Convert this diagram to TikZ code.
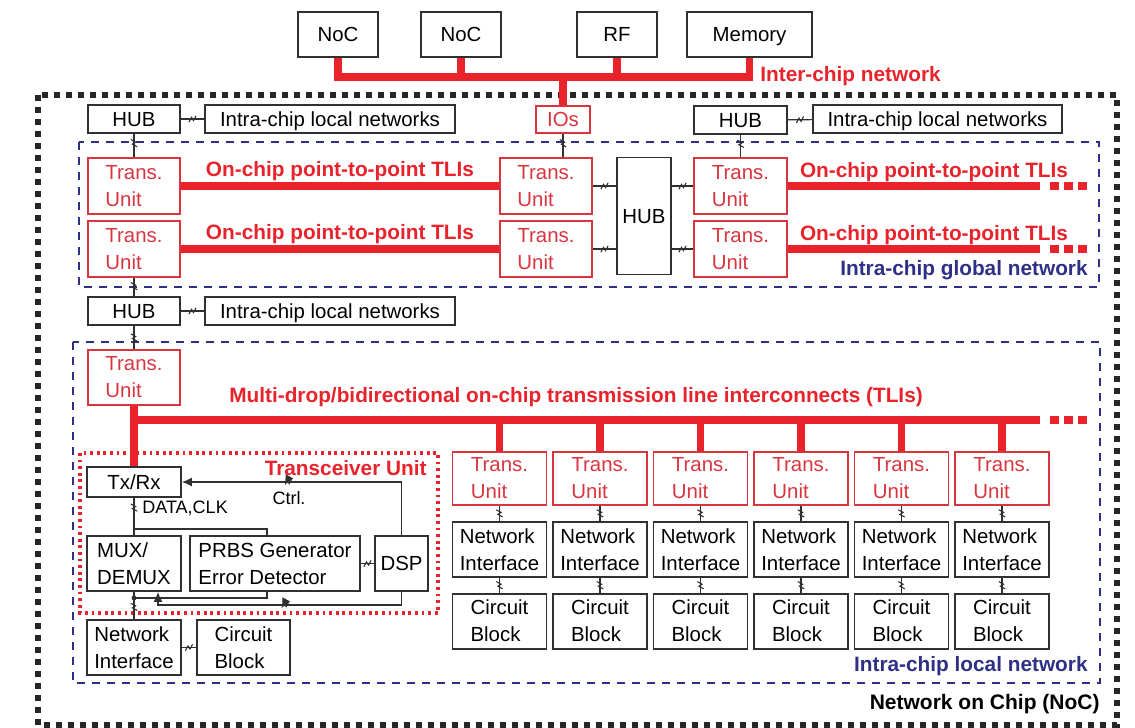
\documentclass[tikz,border=0pt]{standalone}
\usepackage{fontspec}
\setmainfont{Liberation Sans}
\usepackage{tikz}
\usetikzlibrary{arrows.meta,positioning,decorations.markings}
\definecolor{TLIRed}{HTML}{E8232B}
\definecolor{UnitRed}{HTML}{D9353F}
\definecolor{GlobalNavy}{HTML}{2E3086}
\definecolor{BoxGray}{HTML}{303030}

\begin{document}
\begin{tikzpicture}[x=0.5pt, y=-0.5pt,
  chipbox/.style={draw=BoxGray, line width=0.9pt, minimum width=46pt, minimum height=14pt,
    inner sep=0pt, align=left, font=\fontsize{10.2}{13.5}\selectfont},
  onelinebox/.style={chipbox, text height=0.72em, text depth=0pt},
  unitbox/.style={chipbox, draw=UnitRed, text=UnitRed, minimum height=28pt},
  tallbox/.style={chipbox, minimum height=27.5pt},
  tlibus/.style={draw=TLIRed, line width=3.8pt},
  tlitail/.style={draw=TLIRed, line width=3.8pt, dash pattern=on 4.5pt off 2.5pt},
  wire/.style={draw=BoxGray, line width=0.6pt},
  busmark/.style={postaction={decorate}, decoration={markings, mark=at position #1 with
    {\draw[line width=0.55pt] (-1.8pt,-1.6pt) -- (-0.5pt,0.8pt) -- (0.5pt,-0.8pt) -- (1.8pt,1.6pt);}}},
  busmark/.default=0.5,
  redlabel/.style={text=TLIRed, font=\bfseries\fontsize{10.4}{12}\selectfont, inner sep=0pt},
  navylabel/.style={text=GlobalNavy, font=\bfseries\fontsize{10.4}{12}\selectfont, inner sep=0pt},
  netborder/.style={draw=GlobalNavy, line width=1.2pt, dash pattern=on 4pt off 3.5pt},
  chipborder/.style={draw=black!85, line width=2.6pt, dash pattern=on 3pt off 3pt},
  xcvrborder/.style={draw=TLIRed, line width=1.6pt, dash pattern=on 1.4pt off 1.9pt}
]
\useasboundingbox (0,0) rectangle (1135,728);

% off-chip parts and the inter-chip network
\node[onelinebox, minimum width=40pt, minimum height=22.5pt] (noc1) at (338,34.5) {NoC};
\node[onelinebox, minimum width=40pt, minimum height=22.5pt] (noc2) at (461,34.5) {NoC};
\node[onelinebox, minimum width=40pt, minimum height=22.5pt] (rf) at (617,34.5) {RF};
\node[onelinebox, minimum width=62.5pt, minimum height=22.5pt] (mem) at (749.5,34.5) {Memory};
\coordinate (interbus) at (0,77);
\node[redlabel, anchor=west] (interlbl) at (760,76) {Inter-chip network};

% network on chip
\draw[chipborder] (38,95) rectangle (1117,725);
\node[font=\bfseries\fontsize{10.5}{12}\selectfont, inner sep=0pt, anchor=east] (noclbl) at (1100,704) {Network on Chip (NoC)};

\node[onelinebox] (hub1) at (134,119) {HUB};
\node[onelinebox, minimum width=125pt] (local1) at (330,119) {Intra-chip local networks};
\node[onelinebox, draw=UnitRed, text=UnitRed, minimum width=27pt, minimum height=13.5pt] (ios) at (563,119.5) {IOs};
\node[onelinebox, minimum width=46.5pt] (hub2) at (740.5,120) {HUB};
\node[onelinebox, minimum width=124.5pt] (local2) at (937.5,119) {Intra-chip local networks};

\draw[tlibus] (noc1.south) |- (interbus -| mem.south) -- (mem.south);
\draw[tlibus] (noc2.south) -- (noc2.south |- interbus);
\draw[tlibus] (rf.south) -- (rf.south |- interbus);
\draw[tlibus] (ios.north) -- (ios.north |- interbus);

% intra-chip global network
\draw[netborder] (79,142) rectangle (1099,287);
\node[unitbox] (tuA1) at (134,186) {Trans.\\Unit};
\node[unitbox] (tuA2) at (134,249) {Trans.\\Unit};
\node[unitbox] (tuB1) at (546,186) {Trans.\\Unit};
\node[unitbox] (tuB2) at (546,249) {Trans.\\Unit};
\node[onelinebox, minimum width=27pt, minimum height=58.5pt] (hubmid) at (644,216) {HUB};
\node[unitbox, minimum width=46.5pt] (tuC1) at (740.5,186) {Trans.\\Unit};
\node[unitbox, minimum width=46.5pt] (tuC2) at (740.5,249) {Trans.\\Unit};
\coordinate (gend1) at (1040,186);
\coordinate (gend2) at (1040,249);
\coordinate (gdot1) at (1087,186);
\coordinate (gdot2) at (1087,249);

\draw[tlibus] (tuA1) -- (tuB1);
\draw[tlibus] (tuA2) -- (tuB2);
\draw[tlibus] (tuC1) -- (gend1);
\draw[tlibus] (tuC2) -- (gend2);
\draw[tlitail] ([xshift=5pt]gend1) -- (gdot1);
\draw[tlitail] ([xshift=5pt]gend2) -- (gdot2);
\node[redlabel] (p2pA1) at (340,171) {On-chip point-to-point TLIs};
\node[redlabel] (p2pA2) at (340,234) {On-chip point-to-point TLIs};
\node[redlabel] (p2pC1) at (934,172) {On-chip point-to-point TLIs};
\node[redlabel] (p2pC2) at (934,235) {On-chip point-to-point TLIs};
\node[navylabel, anchor=east] (globallbl) at (1088,270) {Intra-chip global network};

\draw[wire, busmark] (hub1) -- (local1);
\draw[wire, busmark] (hub2) -- (local2);
\draw[wire, busmark=0.4] (hub1) -- (tuA1);
\draw[wire, busmark=0.4] (ios.south) -- (ios.south |- tuB1.north);
\draw[wire, busmark=0.4] (hub2) -- (tuC1);
\draw[wire, busmark] (tuB1.east) -- (tuB1.east -| hubmid.west);
\draw[wire, busmark] (tuB2.east) -- (tuB2.east -| hubmid.west);
\draw[wire, busmark] (tuC1.west -| hubmid.east) -- (tuC1.west);
\draw[wire, busmark] (tuC2.west -| hubmid.east) -- (tuC2.west);

% intra-chip local network
\node[onelinebox] (hub3) at (134,311) {HUB};
\node[onelinebox, minimum width=125pt] (local3) at (330,311) {Intra-chip local networks};
\draw[wire, busmark] (hub3) -- (local3);
\draw[wire, busmark=0.45] (tuA2) -- (hub3);

\draw[netborder] (73,342) rectangle (1100,683);
\node[unitbox, minimum height=27.5pt] (tu0) at (134,377.5) {Trans.\\Unit};
\draw[wire, busmark=0.5] (hub3) -- (tu0);
\coordinate (lend) at (1040,420);
\coordinate (ldot) at (1087,420);
\node[redlabel] (mdlbl) at (576,397) {Multi-drop/bidirectional on-chip transmission line interconnects (TLIs)};
\node[navylabel, anchor=east] (locallbl) at (1088,666) {Intra-chip local network};

\foreach \i in {1,...,6}{
  \node[unitbox, minimum width=47pt, minimum height=26.5pt] (tu\i) at ({499.5+100.5*(\i-1)},478.5) {Trans.\\Unit};
  \node[tallbox, minimum width=47pt, below=7.5pt of tu\i] (ni\i) {Network\\Interface};
  \node[tallbox, minimum width=47pt, below=7.5pt of ni\i] (cb\i) {Circuit\\Block};
  \draw[tlibus] (tu\i.north) -- (tu\i.north |- lend);
  \draw[wire, busmark] (tu\i) -- (ni\i);
  \draw[wire, busmark] (ni\i) -- (cb\i);
}

% transceiver unit
\draw[xcvrborder] (80,453) rectangle (438,613);
\node[redlabel, anchor=east] (xcvrlbl) at (427,468) {Transceiver Unit};
\node[onelinebox, minimum width=47pt, minimum height=15pt] (txrx) at (134,482) {Tx/Rx};
\node[tallbox, minimum width=47pt] (mux) at (134,563.5) {MUX/\\DEMUX};
\node[tallbox, minimum width=85pt] (prbs) at (275,563.5) {PRBS Generator\\Error Detector};
\node[tallbox, minimum width=26.5pt] (dsp) at (401.5,563.5) {DSP};
\node[tallbox, minimum width=47pt] (ni0) at (134,647.5) {Network\\Interface};
\node[tallbox, minimum width=46.5pt] (cb0) at (243.5,647.5) {Circuit\\Block};
\coordinate (datatap) at (134,529);
\coordinate (muxtap) at (134,598);
\coordinate (fbk) at (158,605);

\draw[tlibus] (tu0.south) -- (txrx.north);
\draw[tlibus] (tu0.south |- lend) -- (lend);
\draw[tlitail] ([xshift=5pt]lend) -- (ldot);

\draw[wire, busmark=0.26] (txrx) -- (mux);
\node[font=\fontsize{9}{10}\selectfont, inner sep=0pt, anchor=west] (datalbl) at (142,508) {DATA,CLK};
\draw[wire] (datatap) -| ([xshift=-4pt]prbs.north);
\draw[wire] (muxtap) -| ([xshift=-4pt]prbs.south);
\fill[BoxGray] (muxtap) circle (1.2pt);
\draw[wire, busmark=0.61, -{Latex[length=5pt,width=4.5pt]}] (dsp.north) |- (txrx.east);
\node[font=\fontsize{9}{10}\selectfont, inner sep=0pt] (ctrllbl) at (289,498) {Ctrl.};
\draw[wire, busmark=0.48, -{Latex[length=5pt,width=4.5pt]}] (dsp.south) |- (fbk) -- (fbk |- mux.south);
\draw[wire, busmark] (prbs) -- (dsp);
\draw[wire, busmark=0.55] (mux) -- (ni0);
\draw[wire, busmark] (ni0) -- (cb0);
\end{tikzpicture}
\end{document}
